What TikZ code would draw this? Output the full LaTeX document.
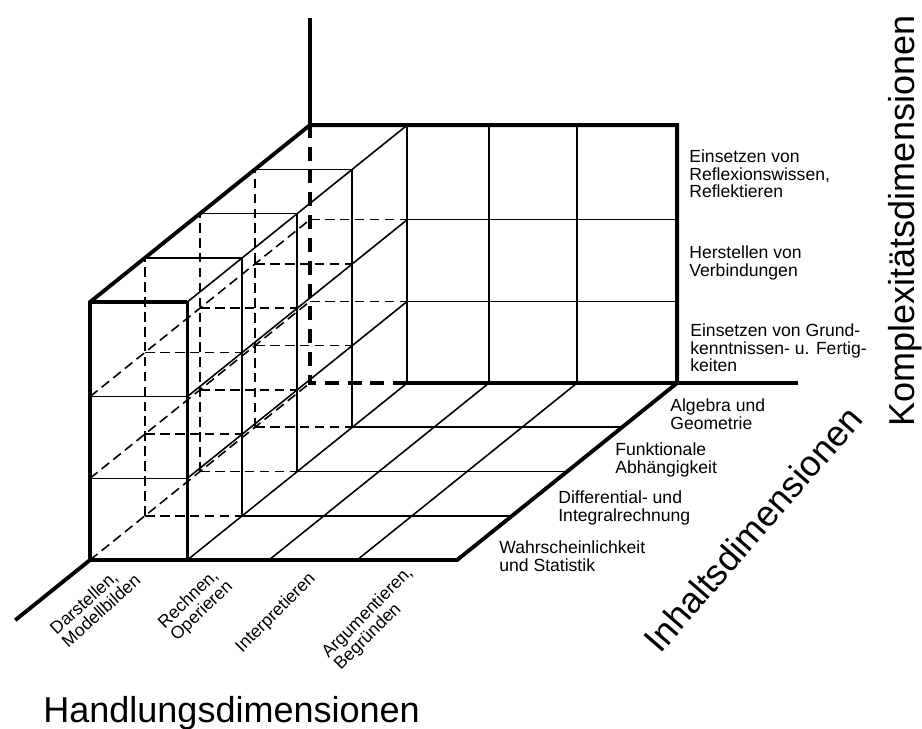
\documentclass[tikz,border=0pt]{standalone}
\usepackage{fontspec}
\setmainfont{Liberation Sans}
\tikzset{
  gridline/.style={line width=0.9pt},
  hiddenline/.style={line width=0.9pt, dash pattern=on 5.5pt off 3pt},
  boldline/.style={line width=2.2pt},
  boldhidden/.style={line width=2.2pt, dash pattern=on 8pt off 5pt},
  levellabel/.style={font=\fontsize{10}{10}\selectfont, align=left, inner sep=0pt},
  dimlabel/.style={font=\fontsize{20.5}{24}\selectfont, inner sep=0pt}
}
\begin{document}
\begin{tikzpicture}[x=0.02cm, y=-0.02cm]
\useasboundingbox (0,0) rectangle (922,729);
\begin{scope}[shift={(90,560)}, x={(1.836cm,0cm)}, y={(1.1cm,0.885cm)}, z={(0cm,1.72cm)}]
  \foreach \w in {0,0.95,1.9} {
    \draw[hiddenline] (0,0,\w) -- (0,4,\w);
    \foreach \v in {1,2,3}
      \draw[hiddenline] (0,\v,\w) -- (1.06,\v,\w);
  }
  \foreach \v in {1,2,3}
    \draw[hiddenline] (0,\v,0) -- (0,\v,3);
  \foreach \w in {0.95,1.9} {
    \draw[hiddenline] (0,4,\w) -- (1.06,4,\w);
    \draw[gridline] (1.06,4,\w) -- (4,4,\w);
    \draw[gridline] (0,0,\w) -- (1.06,0,\w);
    \draw[gridline] (1.06,0,\w) -- (1.06,4,\w);
  }
  \foreach \v in {1,2,3} {
    \draw[gridline] (0,\v,3) -- (1.06,\v,3);
    \draw[gridline] (1.06,\v,0) -- (1.06,\v,3);
    \draw[gridline] (1.06,\v,0) -- (4,\v,0);
  }
  \foreach \u in {1.06,1.95,2.91}
    \draw[gridline] (\u,4,0) -- (\u,4,3);
  \foreach \u in {1.95,2.91}
    \draw[gridline] (\u,0,0) -- (\u,4,0);
  \draw[gridline] (1.06,0,0) -- (1.06,4,0);
  \draw[gridline] (1.06,0,3) -- (1.06,4,3);
  \draw[line width=1.5pt] (1.06,0,0) -- (1.06,0,3);

  \draw[boldhidden] (1.06,4,0) -- (0,4,0) -- (0,4,3);
  \draw[boldline] (0,4,3) -- (0,0,3) -- (0,0,0) -- (4,0,0) -- (4,4,0) -- (4,4,3) -- cycle;
  \draw[boldline] (0,0,3) -- (1.06,0,3);
  \draw[boldline] (0,4,3) -- (0,4,4.25);
  \draw[boldline] (1.06,4,0) -- (5.32,4,0);
  \draw[boldline] (0,0,0) -- (0,-1.36,0);
\end{scope}

\node[levellabel, anchor=west] (k3) at (689,174) {Einsetzen von\\Reflexionswissen,\\Reflektieren};
\node[levellabel, anchor=west] (k2) at (689,263) {Herstellen von\\Verbindungen};
\node[levellabel, anchor=west] (k1) at (690,348) {Einsetzen von Grund-\\kenntnissen- u. Fertig-\\keiten};
\node[levellabel, anchor=west] (i4) at (670,414) {Algebra und\\Geometrie};
\node[levellabel, anchor=west] (i3) at (615,460) {Funktionale\\Abhängigkeit};
\node[levellabel, anchor=west] (i2) at (558,508) {Differential- und\\Integralrechnung};
\node[levellabel, anchor=west] (i1) at (499,556) {Wahrscheinlichkeit\\und Statistik};
\node[levellabel, rotate=42] (h1) at (95,604) {Darstellen,\\Modellbilden};
\node[levellabel, rotate=44] (h2) at (196,605) {Rechnen,\\Operieren};
\node[levellabel, rotate=45] (h3) at (276,613) {Interpretieren};
\node[levellabel, rotate=45] (h4) at (374,619) {Argumentieren,\\Begründen};
\node[dimlabel, anchor=base west] (hdim) at (43,722) {Handlungsdimensionen};
\node[dimlabel, rotate=49] (idim) at (753,529) {Inhaltsdimensionen};
\node[dimlabel, rotate=90] (kdim) at (905,221) {Komplexitätsdimensionen};
\end{tikzpicture}
\end{document}
